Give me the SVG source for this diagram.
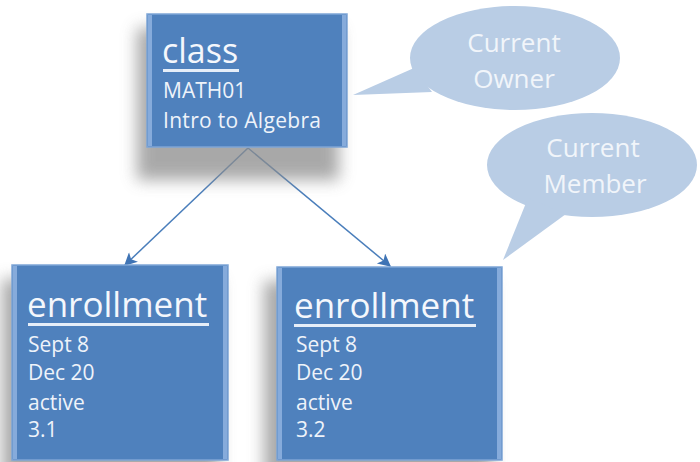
<svg xmlns="http://www.w3.org/2000/svg" width="700" height="462" viewBox="0 0 700 462">
  <defs>
    <style>
      .box { fill: #4f81bd; stroke: #7ea5d6; stroke-width: 1.5; }
      .bevel { fill: #8fb3e0; opacity: 0.85; }
      .shadow { fill: #8c8c8c; filter: url(#blur); opacity: 0.75; }
      .title { font-family: "Open Sans", "Liberation Sans", sans-serif; fill: #f4f7fc; }
      .rule { fill: #e6eef8; }
      .line { font-family: "Open Sans", "Liberation Sans", sans-serif; font-size: 21px; fill: #eef3fa; }
      .bubble { fill: #b9cde5; }
      .btext { font-family: "Open Sans", "Liberation Sans", sans-serif; font-size: 26px; fill: #f1f5fa; text-anchor: middle; }
      .edge { stroke: #4a7ebb; stroke-width: 1.5; fill: none; marker-end: url(#arrow); }
    </style>
    <filter id="blur" x="-30%" y="-30%" width="160%" height="160%">
      <feGaussianBlur stdDeviation="8"/>
    </filter>
    <marker id="arrow" viewBox="0 0 10 10" refX="9" refY="5" markerWidth="15" markerHeight="13" orient="auto" markerUnits="userSpaceOnUse">
      <path d="M0,0 L10,5 L0,10 L2.5,5 Z" fill="#3f74b5"/>
    </marker>
  </defs>

  <rect width="700" height="462" fill="#ffffff"/>

  <!-- speech bubbles -->
  <g id="owner-bubble">
    <ellipse class="bubble" cx="515" cy="58" rx="105" ry="52"/>
    <path class="bubble" d="M414,68 L353,95 L432,92 Z"/>
    <text class="btext" x="514" y="52">Current</text>
    <text class="btext" x="514" y="88">Owner</text>
  </g>
  <g id="member-bubble">
    <ellipse class="bubble" cx="592" cy="165" rx="105" ry="52"/>
    <path class="bubble" d="M528,198 L503,260 L566,214 Z"/>
    <text class="btext" x="593" y="157">Current</text>
    <text class="btext" x="595" y="193">Member</text>
  </g>

  <!-- connectors -->
  <g id="connectors">
    <line class="edge" x1="248" y1="148" x2="125" y2="265"/>
    <line class="edge" x1="248" y1="148" x2="390" y2="266"/>
  </g>

  <!-- class node -->
  <g id="class-node">
    <rect class="shadow" x="137" y="28" width="202" height="152"/>
    <rect class="box" x="147" y="14" width="200" height="133"/>
    <rect class="bevel" x="148" y="15" width="4" height="131"/>
    <rect class="bevel" x="342" y="15" width="4" height="131"/>
    <text class="title" x="162" y="63" font-size="34">class</text>
    <rect class="rule" x="163" y="69" width="76" height="3"/>
    <text class="line" x="163" y="98">MATH01</text>
    <text class="line" x="163" y="128" textLength="158">Intro to Algebra</text>
  </g>

  <!-- enrollment nodes -->
  <g id="enrollment-1">
    <rect class="shadow" x="2" y="279" width="217" height="200"/>
    <rect class="box" x="12" y="265" width="216" height="195"/>
    <rect class="bevel" x="13" y="266" width="4" height="193"/>
    <rect class="bevel" x="223" y="266" width="4" height="193"/>
    <text class="title" x="27" y="317" font-size="35">enrollment</text>
    <rect class="rule" x="28" y="323" width="181" height="3"/>
    <text class="line" x="28" y="352">Sept 8</text>
    <text class="line" x="28" y="380">Dec 20</text>
    <text class="line" x="28" y="410">active</text>
    <text class="line" x="28" y="437">3.1</text>
  </g>
  <g id="enrollment-2">
    <rect class="shadow" x="264" y="281" width="228" height="200"/>
    <rect class="box" x="277" y="267" width="225" height="193"/>
    <rect class="bevel" x="278" y="268" width="4" height="191"/>
    <rect class="bevel" x="497" y="268" width="4" height="191"/>
    <text class="title" x="294" y="318" font-size="35">enrollment</text>
    <rect class="rule" x="294" y="324" width="182" height="3"/>
    <text class="line" x="296" y="352">Sept 8</text>
    <text class="line" x="296" y="380">Dec 20</text>
    <text class="line" x="296" y="410">active</text>
    <text class="line" x="296" y="437">3.2</text>
  </g>
</svg>
